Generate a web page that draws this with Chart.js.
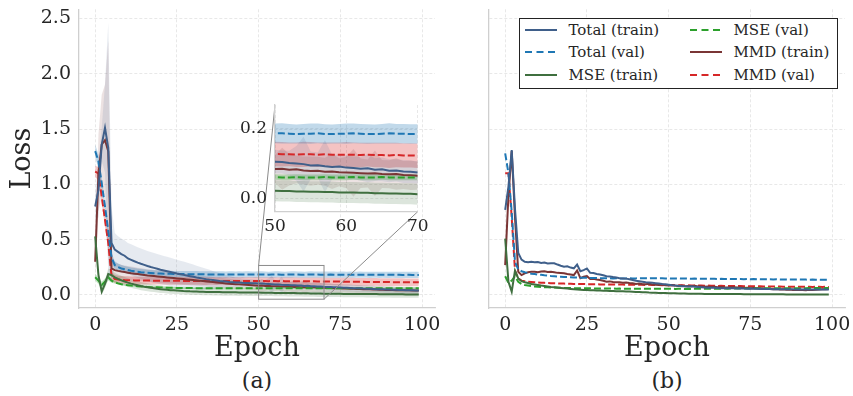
<!DOCTYPE html>
<html>
<head>
<meta charset="utf-8">
<script src="https://cdn.jsdelivr.net/npm/chart.js@4.4.1/dist/chart.umd.min.js"></script>
<style>
  body { margin: 0; background: #fff; }
  #wrap { position: relative; width: 853px; height: 396px; font-family: 'DejaVu Serif', serif; color: #262626; }
  canvas { position: absolute; }
  #chartA { left: 0; top: 0; z-index: 1; }
  #chartInset { left: 225px; top: 95px; z-index: 2; }
  #chartB { left: 440px; top: 0; z-index: 1; }
  .caption { position: absolute; top: 368px; width: 100px; font-size: 22px; line-height: 26px; text-align: center; }
  #legend {
    position: absolute; left: 519px; top: 17.5px; width: 318.5px; height: 71px; box-sizing: border-box;
    border: 1.2px solid #222; background: #fff; z-index: 3;
    display: grid; grid-template-columns: 165px auto; grid-template-rows: repeat(3, 22.5px);
    grid-auto-flow: column; padding: 0 0 0 5px; font-size: 15px;
  }
  #legend .item { display: flex; align-items: center; white-space: nowrap; }
  #legend svg { margin-right: 11.5px; }
</style>
</head>
<body>
<div id="wrap">
  <canvas id="chartA" width="440" height="396"></canvas>
  <canvas id="chartInset" width="215" height="145"></canvas>
  <canvas id="chartB" width="413" height="396"></canvas>
  <div id="legend"></div>
  <div class="caption" style="left:207px">(a)</div>
  <div class="caption" style="left:617px">(b)</div>
</div>
<script>
const epochs = Array.from({ length: 100 }, (_, i) => i);
const xTicks = [0, 25, 50, 75, 100];
const yTicks = [0, 0.5, 1, 1.5, 2, 2.5];
const insetXTicks = [50, 60, 70];
const insetYTicks = [0, 0.2];

const seriesNames = ['Total (train)', 'Total (val)', 'MSE (train)', 'MSE (val)', 'MMD (train)', 'MMD (val)'];
const seriesColors = ['#3f5f8a', '#1f77b4', '#3f6f3f', '#2ca02c', '#7a3535', '#d62728'];
const seriesDashed = [false, true, false, true, false, true];
const bandAlpha = [0.13, 0.28, 0.18, 0.28, 0.14, 0.28];

// (a) mean over runs
const totalTrainA = [
  0.80, 0.95, 1.36, 1.51, 1.33, 0.47, 0.41, 0.39, 0.37, 0.355,
  0.33, 0.318, 0.305, 0.293, 0.282, 0.272, 0.262, 0.253, 0.245, 0.237,
  0.229, 0.222, 0.215, 0.208, 0.201, 0.194, 0.188, 0.182, 0.176, 0.17,
  0.164, 0.158, 0.153, 0.148, 0.143, 0.139, 0.135, 0.131, 0.127, 0.124,
  0.121, 0.118, 0.116, 0.114, 0.112, 0.11, 0.109, 0.108, 0.107, 0.106,
  0.105, 0.104, 0.101, 0.1, 0.098, 0.094, 0.095, 0.092, 0.09, 0.091,
  0.088, 0.087, 0.085, 0.086, 0.082, 0.083, 0.079, 0.08, 0.077, 0.076,
  0.074, 0.073, 0.072, 0.07, 0.069, 0.068, 0.066, 0.065, 0.064, 0.062,
  0.061, 0.06, 0.058, 0.057, 0.056, 0.055, 0.053, 0.052, 0.051, 0.05,
  0.049, 0.048, 0.047, 0.046, 0.045, 0.044, 0.043, 0.042, 0.041, 0.04
];
const totalValA = [
  1.30, 1.21, 1.01, 0.80, 0.58, 0.34, 0.27, 0.252, 0.24, 0.232,
  0.225, 0.219, 0.214, 0.21, 0.206, 0.203, 0.2, 0.198, 0.196, 0.195,
  0.194, 0.193, 0.192, 0.191, 0.19, 0.19, 0.189, 0.189, 0.188, 0.188,
  0.188, 0.187, 0.187, 0.187, 0.186, 0.186, 0.186, 0.186, 0.185, 0.186,
  0.185, 0.186, 0.185, 0.185, 0.186, 0.185, 0.185, 0.186, 0.185, 0.185,
  0.186, 0.186, 0.185, 0.184, 0.185, 0.185, 0.186, 0.184, 0.184, 0.185,
  0.185, 0.186, 0.185, 0.184, 0.184, 0.185, 0.186, 0.185, 0.185, 0.184,
  0.184, 0.184, 0.185, 0.184, 0.183, 0.184, 0.184, 0.183, 0.184, 0.183,
  0.183, 0.184, 0.183, 0.183, 0.182, 0.183, 0.183, 0.182, 0.183, 0.182,
  0.182, 0.183, 0.182, 0.182, 0.181, 0.182, 0.182, 0.181, 0.181, 0.181
];
const mseTrainA = [
  0.53, 0.18, 0.03, 0.10, 0.19, 0.18, 0.16, 0.145, 0.133, 0.122,
  0.112, 0.103, 0.095, 0.088, 0.081, 0.075, 0.07, 0.065, 0.061, 0.057,
  0.053, 0.05, 0.047, 0.044, 0.042, 0.04, 0.038, 0.036, 0.035, 0.033,
  0.032, 0.031, 0.03, 0.029, 0.028, 0.028, 0.027, 0.026, 0.026, 0.025,
  0.025, 0.024, 0.024, 0.024, 0.023, 0.023, 0.023, 0.022, 0.022, 0.022,
  0.022, 0.021, 0.021, 0.02, 0.02, 0.019, 0.019, 0.018, 0.018, 0.017,
  0.017, 0.017, 0.016, 0.016, 0.015, 0.015, 0.014, 0.014, 0.013, 0.013,
  0.012, 0.012, 0.012, 0.011, 0.011, 0.011, 0.01, 0.01, 0.01, 0.009,
  0.009, 0.009, 0.009, 0.008, 0.008, 0.008, 0.008, 0.007, 0.007, 0.007,
  0.007, 0.006, 0.006, 0.006, 0.006, 0.005, 0.005, 0.005, 0.005, 0.005
];
const mseValA = [
  0.16, 0.13, 0.09, 0.12, 0.16, 0.13, 0.115, 0.105, 0.098, 0.093,
  0.089, 0.085, 0.082, 0.079, 0.077, 0.075, 0.073, 0.071, 0.07, 0.069,
  0.068, 0.067, 0.066, 0.065, 0.065, 0.064, 0.064, 0.063, 0.063, 0.063,
  0.062, 0.062, 0.062, 0.061, 0.061, 0.061, 0.061, 0.061, 0.06, 0.06,
  0.06, 0.061, 0.06, 0.06, 0.061, 0.06, 0.06, 0.061, 0.06, 0.06,
  0.061, 0.06, 0.06, 0.061, 0.06, 0.06, 0.06, 0.061, 0.06, 0.06,
  0.06, 0.061, 0.06, 0.06, 0.06, 0.061, 0.06, 0.06, 0.06, 0.06,
  0.06, 0.061, 0.06, 0.06, 0.06, 0.06, 0.061, 0.06, 0.06, 0.06,
  0.06, 0.06, 0.061, 0.06, 0.06, 0.06, 0.06, 0.061, 0.06, 0.06,
  0.06, 0.06, 0.06, 0.061, 0.06, 0.06, 0.06, 0.06, 0.061, 0.06
];
const mmdTrainA = [
  0.30, 1.10, 1.36, 1.40, 1.30, 0.24, 0.225, 0.218, 0.212, 0.207,
  0.202, 0.197, 0.193, 0.189, 0.185, 0.181, 0.177, 0.174, 0.171, 0.168,
  0.165, 0.162, 0.159, 0.156, 0.153, 0.15, 0.147, 0.144, 0.141, 0.138,
  0.135, 0.132, 0.129, 0.126, 0.123, 0.12, 0.117, 0.114, 0.111, 0.108,
  0.105, 0.102, 0.1, 0.098, 0.096, 0.094, 0.092, 0.09, 0.088, 0.086,
  0.084, 0.085, 0.082, 0.083, 0.08, 0.078, 0.079, 0.076, 0.077, 0.075,
  0.074, 0.073, 0.072, 0.071, 0.072, 0.07, 0.069, 0.07, 0.067, 0.066,
  0.065, 0.064, 0.063, 0.062, 0.061, 0.06, 0.059, 0.058, 0.057, 0.056,
  0.055, 0.054, 0.053, 0.052, 0.051, 0.05, 0.049, 0.048, 0.047, 0.046,
  0.046, 0.045, 0.044, 0.044, 0.043, 0.042, 0.042, 0.041, 0.041, 0.04
];
const mmdValA = [
  1.115, 1.10, 0.89, 0.68, 0.47, 0.17, 0.145, 0.14, 0.137, 0.135,
  0.134, 0.133, 0.132, 0.131, 0.131, 0.13, 0.13, 0.13, 0.129, 0.129,
  0.129, 0.129, 0.128, 0.128, 0.128, 0.128, 0.128, 0.127, 0.128, 0.127,
  0.127, 0.128, 0.127, 0.127, 0.126, 0.127, 0.127, 0.126, 0.127, 0.127,
  0.127, 0.126, 0.127, 0.126, 0.127, 0.126, 0.126, 0.127, 0.126, 0.127,
  0.127, 0.126, 0.126, 0.125, 0.126, 0.126, 0.125, 0.126, 0.125, 0.125,
  0.125, 0.125, 0.124, 0.125, 0.124, 0.124, 0.123, 0.124, 0.123, 0.123,
  0.122, 0.122, 0.122, 0.121, 0.121, 0.121, 0.12, 0.12, 0.12, 0.12,
  0.119, 0.119, 0.119, 0.118, 0.118, 0.118, 0.118, 0.117, 0.117, 0.117,
  0.117, 0.116, 0.116, 0.116, 0.116, 0.115, 0.115, 0.115, 0.115, 0.115
];

// (a) spread over runs (one standard deviation)
const totalTrainStdA = [
  0.12, 0.25, 0.15, 0.40, 1.13, 0.33, 0.15, 0.14, 0.14, 0.14,
  0.14, 0.14, 0.14, 0.139, 0.138, 0.137, 0.136, 0.135, 0.134, 0.133,
  0.132, 0.131, 0.13, 0.128, 0.126, 0.124, 0.122, 0.12, 0.117, 0.114,
  0.111, 0.107, 0.103, 0.099, 0.094, 0.089, 0.083, 0.077, 0.071, 0.065,
  0.06, 0.055, 0.05, 0.046, 0.043, 0.04, 0.038, 0.036, 0.035, 0.034,
  0.034, 0.033, 0.035, 0.05, 0.078, 0.04, 0.036, 0.075, 0.035, 0.034,
  0.034, 0.033, 0.034, 0.04, 0.033, 0.034, 0.033, 0.032, 0.033, 0.032,
  0.032, 0.031, 0.031, 0.03, 0.03, 0.03, 0.03, 0.029, 0.029, 0.029,
  0.029, 0.028, 0.028, 0.028, 0.028, 0.028, 0.027, 0.027, 0.027, 0.027,
  0.027, 0.026, 0.026, 0.026, 0.026, 0.026, 0.025, 0.025, 0.025, 0.025
];
const totalValStdA = [
  0.06, 0.06, 0.05, 0.05, 0.05, 0.04, 0.035, 0.032, 0.03, 0.03,
  0.03, 0.03, 0.029, 0.029, 0.029, 0.029, 0.029, 0.028, 0.028, 0.028,
  0.028, 0.028, 0.028, 0.028, 0.028, 0.028, 0.028, 0.028, 0.028, 0.028,
  0.028, 0.029, 0.028, 0.028, 0.029, 0.028, 0.028, 0.028, 0.029, 0.028,
  0.028, 0.028, 0.029, 0.028, 0.028, 0.028, 0.029, 0.028, 0.028, 0.028,
  0.028, 0.029, 0.028, 0.027, 0.028, 0.029, 0.028, 0.028, 0.027, 0.028,
  0.029, 0.028, 0.028, 0.028, 0.027, 0.028, 0.029, 0.028, 0.028, 0.028,
  0.028, 0.028, 0.028, 0.028, 0.028, 0.028, 0.028, 0.028, 0.028, 0.028,
  0.028, 0.028, 0.028, 0.028, 0.028, 0.028, 0.028, 0.028, 0.028, 0.028,
  0.028, 0.028, 0.028, 0.028, 0.028, 0.028, 0.028, 0.028, 0.028, 0.028
];
const mseTrainStdA = [
  0.05, 0.05, 0.03, 0.04, 0.05, 0.045, 0.042, 0.04, 0.04, 0.04,
  0.039, 0.038, 0.038, 0.037, 0.037, 0.036, 0.036, 0.035, 0.035, 0.034,
  0.034, 0.033, 0.033, 0.033, 0.032, 0.032, 0.032, 0.032, 0.031, 0.031,
  0.031, 0.031, 0.031, 0.031, 0.031, 0.031, 0.031, 0.031, 0.031, 0.031,
  0.031, 0.031, 0.031, 0.031, 0.031, 0.03, 0.03, 0.03, 0.03, 0.03,
  0.03, 0.03, 0.03, 0.03, 0.03, 0.03, 0.03, 0.03, 0.03, 0.03,
  0.03, 0.03, 0.03, 0.03, 0.03, 0.03, 0.03, 0.03, 0.03, 0.03,
  0.03, 0.03, 0.03, 0.03, 0.03, 0.03, 0.03, 0.03, 0.03, 0.03,
  0.03, 0.03, 0.03, 0.03, 0.03, 0.03, 0.03, 0.03, 0.03, 0.03,
  0.03, 0.03, 0.03, 0.03, 0.03, 0.03, 0.03, 0.03, 0.03, 0.03
];
const mseValStdA = [
  0.03, 0.03, 0.03, 0.03, 0.03, 0.02, 0.012, 0.01, 0.009, 0.008,
  0.008, 0.008, 0.008, 0.008, 0.008, 0.008, 0.008, 0.008, 0.008, 0.008,
  0.008, 0.008, 0.008, 0.008, 0.008, 0.008, 0.008, 0.008, 0.008, 0.008,
  0.008, 0.008, 0.008, 0.008, 0.008, 0.008, 0.008, 0.008, 0.008, 0.008,
  0.008, 0.008, 0.008, 0.008, 0.008, 0.008, 0.008, 0.008, 0.008, 0.008,
  0.008, 0.008, 0.008, 0.008, 0.008, 0.008, 0.008, 0.008, 0.008, 0.008,
  0.008, 0.008, 0.008, 0.008, 0.008, 0.008, 0.008, 0.008, 0.008, 0.008,
  0.008, 0.008, 0.008, 0.008, 0.008, 0.008, 0.008, 0.008, 0.008, 0.008,
  0.008, 0.008, 0.008, 0.008, 0.008, 0.008, 0.008, 0.008, 0.008, 0.008,
  0.008, 0.008, 0.008, 0.008, 0.008, 0.008, 0.008, 0.008, 0.008, 0.008
];
const mmdTrainStdA = [
  0.15, 0.35, 0.45, 0.50, 1.00, 0.08, 0.07, 0.065, 0.062, 0.06,
  0.06, 0.06, 0.059, 0.058, 0.058, 0.057, 0.056, 0.056, 0.055, 0.055,
  0.054, 0.054, 0.053, 0.053, 0.052, 0.052, 0.051, 0.051, 0.05, 0.05,
  0.049, 0.049, 0.048, 0.048, 0.047, 0.047, 0.046, 0.046, 0.045, 0.045,
  0.044, 0.044, 0.043, 0.043, 0.042, 0.042, 0.041, 0.041, 0.04, 0.04,
  0.04, 0.06, 0.045, 0.04, 0.04, 0.042, 0.04, 0.04, 0.05, 0.04,
  0.045, 0.068, 0.042, 0.04, 0.065, 0.04, 0.04, 0.045, 0.04, 0.042,
  0.04, 0.039, 0.039, 0.038, 0.038, 0.038, 0.037, 0.037, 0.037, 0.036,
  0.036, 0.036, 0.035, 0.035, 0.035, 0.035, 0.034, 0.034, 0.034, 0.034,
  0.034, 0.033, 0.033, 0.033, 0.033, 0.033, 0.032, 0.032, 0.032, 0.032
];
const mmdValStdA = [
  0.05, 0.06, 0.06, 0.06, 0.06, 0.04, 0.036, 0.035, 0.035, 0.035,
  0.035, 0.035, 0.035, 0.035, 0.035, 0.035, 0.035, 0.035, 0.035, 0.035,
  0.035, 0.035, 0.035, 0.035, 0.035, 0.035, 0.035, 0.035, 0.035, 0.035,
  0.035, 0.035, 0.035, 0.036, 0.035, 0.035, 0.035, 0.035, 0.035, 0.035,
  0.035, 0.035, 0.035, 0.035, 0.035, 0.036, 0.035, 0.035, 0.035, 0.035,
  0.035, 0.035, 0.034, 0.035, 0.036, 0.035, 0.035, 0.034, 0.035, 0.035,
  0.036, 0.035, 0.035, 0.034, 0.035, 0.035, 0.036, 0.035, 0.035, 0.035,
  0.035, 0.035, 0.035, 0.035, 0.035, 0.035, 0.035, 0.035, 0.035, 0.035,
  0.035, 0.035, 0.035, 0.035, 0.035, 0.035, 0.035, 0.035, 0.035, 0.035,
  0.035, 0.035, 0.035, 0.035, 0.035, 0.035, 0.035, 0.035, 0.035, 0.035
];

// (b) single run
const totalTrainB = [
  0.77, 0.98, 1.31, 0.78, 0.38, 0.32, 0.30, 0.295, 0.30, 0.297,
  0.298, 0.29, 0.293, 0.285, 0.288, 0.286, 0.275, 0.265, 0.256, 0.26,
  0.248, 0.241, 0.275, 0.215, 0.225, 0.24, 0.2, 0.198, 0.19, 0.185,
  0.178, 0.17, 0.168, 0.162, 0.158, 0.152, 0.15, 0.148, 0.142, 0.136,
  0.128, 0.124, 0.12, 0.116, 0.113, 0.11, 0.107, 0.104, 0.1, 0.097,
  0.093, 0.088, 0.085, 0.083, 0.08, 0.078, 0.077, 0.078, 0.074, 0.072,
  0.07, 0.068, 0.066, 0.065, 0.066, 0.063, 0.062, 0.062, 0.061, 0.06,
  0.06, 0.059, 0.06, 0.058, 0.057, 0.058, 0.056, 0.056, 0.055, 0.056,
  0.054, 0.055, 0.053, 0.054, 0.052, 0.053, 0.052, 0.051, 0.052, 0.05,
  0.051, 0.05, 0.051, 0.049, 0.05, 0.05, 0.049, 0.05, 0.05, 0.05
];
const totalValB = [
  1.28, 1.10, 0.75, 0.30, 0.23, 0.215, 0.205, 0.198, 0.193, 0.19,
  0.185, 0.182, 0.178, 0.175, 0.172, 0.17, 0.167, 0.165, 0.163, 0.162,
  0.16, 0.158, 0.157, 0.156, 0.155, 0.155, 0.154, 0.153, 0.153, 0.152,
  0.152, 0.151, 0.151, 0.15, 0.151, 0.15, 0.149, 0.15, 0.151, 0.15,
  0.15, 0.151, 0.152, 0.151, 0.15, 0.152, 0.151, 0.15, 0.151, 0.15,
  0.15, 0.149, 0.15, 0.149, 0.148, 0.149, 0.148, 0.147, 0.148, 0.147,
  0.147, 0.146, 0.147, 0.146, 0.146, 0.145, 0.146, 0.145, 0.145, 0.144,
  0.145, 0.144, 0.144, 0.143, 0.144, 0.143, 0.145, 0.143, 0.142, 0.143,
  0.142, 0.142, 0.141, 0.142, 0.141, 0.14, 0.141, 0.14, 0.14, 0.139,
  0.14, 0.139, 0.139, 0.138, 0.139, 0.138, 0.138, 0.137, 0.137, 0.137
];
const mseTrainB = [
  0.51, 0.12, 0.03, 0.22, 0.15, 0.125, 0.115, 0.108, 0.1, 0.095,
  0.09, 0.085, 0.081, 0.077, 0.073, 0.07, 0.067, 0.064, 0.061, 0.058,
  0.055, 0.052, 0.05, 0.048, 0.046, 0.045, 0.043, 0.042, 0.041, 0.04,
  0.039, 0.038, 0.037, 0.036, 0.035, 0.034, 0.033, 0.032, 0.031, 0.03,
  0.028, 0.027, 0.025, 0.024, 0.022, 0.021, 0.02, 0.019, 0.018, 0.017,
  0.016, 0.015, 0.015, 0.014, 0.013, 0.013, 0.012, 0.012, 0.011, 0.011,
  0.011, 0.01, 0.01, 0.01, 0.009, 0.009, 0.009, 0.009, 0.008, 0.008,
  0.008, 0.008, 0.008, 0.007, 0.007, 0.007, 0.007, 0.007, 0.007, 0.006,
  0.006, 0.006, 0.006, 0.006, 0.006, 0.006, 0.005, 0.005, 0.005, 0.005,
  0.005, 0.005, 0.005, 0.005, 0.005, 0.005, 0.005, 0.004, 0.004, 0.004
];
const mseValB = [
  0.17, 0.11, 0.13, 0.17, 0.12, 0.10, 0.09, 0.085, 0.08, 0.077,
  0.074, 0.072, 0.07, 0.069, 0.068, 0.067, 0.066, 0.065, 0.064, 0.063,
  0.063, 0.062, 0.062, 0.061, 0.061, 0.06, 0.06, 0.06, 0.059, 0.059,
  0.059, 0.058, 0.058, 0.058, 0.057, 0.058, 0.057, 0.057, 0.057, 0.057,
  0.057, 0.056, 0.057, 0.056, 0.056, 0.057, 0.056, 0.056, 0.056, 0.056,
  0.056, 0.056, 0.055, 0.056, 0.056, 0.055, 0.056, 0.055, 0.056, 0.056,
  0.056, 0.056, 0.057, 0.056, 0.057, 0.057, 0.057, 0.058, 0.057, 0.058,
  0.058, 0.058, 0.059, 0.058, 0.059, 0.059, 0.06, 0.059, 0.06, 0.06,
  0.06, 0.06, 0.061, 0.06, 0.061, 0.061, 0.061, 0.062, 0.061, 0.062,
  0.062, 0.062, 0.062, 0.063, 0.062, 0.063, 0.063, 0.063, 0.064, 0.063
];
const mmdTrainB = [
  0.27, 0.90, 1.30, 0.70, 0.21, 0.18, 0.195, 0.205, 0.21, 0.21,
  0.205, 0.212, 0.215, 0.208, 0.21, 0.205, 0.2, 0.198, 0.196, 0.19,
  0.185, 0.18, 0.222, 0.152, 0.165, 0.17, 0.145, 0.147, 0.14, 0.135,
  0.128, 0.12, 0.123, 0.118, 0.115, 0.116, 0.111, 0.113, 0.108, 0.106,
  0.1, 0.104, 0.098, 0.097, 0.102, 0.095, 0.093, 0.09, 0.094, 0.088,
  0.086, 0.09, 0.085, 0.082, 0.086, 0.08, 0.082, 0.079, 0.083, 0.078,
  0.077, 0.075, 0.076, 0.072, 0.074, 0.071, 0.073, 0.07, 0.068, 0.07,
  0.069, 0.067, 0.068, 0.064, 0.066, 0.062, 0.063, 0.06, 0.061, 0.058,
  0.057, 0.055, 0.052, 0.054, 0.05, 0.052, 0.048, 0.049, 0.046, 0.047,
  0.045, 0.046, 0.044, 0.047, 0.045, 0.048, 0.05, 0.052, 0.053, 0.054
];
const mmdValB = [
  1.10, 1.10, 0.70, 0.22, 0.15, 0.13, 0.125, 0.12, 0.118, 0.115,
  0.113, 0.111, 0.11, 0.108, 0.107, 0.106, 0.105, 0.104, 0.103, 0.102,
  0.101, 0.1, 0.1, 0.099, 0.099, 0.098, 0.098, 0.097, 0.097, 0.096,
  0.096, 0.095, 0.096, 0.095, 0.094, 0.095, 0.094, 0.093, 0.094, 0.093,
  0.092, 0.093, 0.092, 0.091, 0.092, 0.09, 0.091, 0.09, 0.089, 0.09,
  0.089, 0.088, 0.089, 0.087, 0.088, 0.086, 0.087, 0.086, 0.085, 0.086,
  0.085, 0.084, 0.085, 0.083, 0.084, 0.082, 0.083, 0.082, 0.081, 0.082,
  0.081, 0.08, 0.081, 0.079, 0.08, 0.079, 0.078, 0.079, 0.078, 0.077,
  0.078, 0.077, 0.076, 0.077, 0.076, 0.075, 0.076, 0.075, 0.075, 0.074,
  0.075, 0.074, 0.074, 0.075, 0.073, 0.074, 0.074, 0.073, 0.074, 0.073
];

const meansA = [totalTrainA, totalValA, mseTrainA, mseValA, mmdTrainA, mmdValA];
const stdsA = [totalTrainStdA, totalValStdA, mseTrainStdA, mseValStdA, mmdTrainStdA, mmdValStdA];
const meansB = [totalTrainB, totalValB, mseTrainB, mseValB, mmdTrainB, mmdValB];

const FONT = "'DejaVu Serif', serif";
const TEXT = '#262626';
const GRID = '#e2e2e2';
const SPINE = '#cfcfcf';

function rgba(hex, a) {
  const n = parseInt(hex.slice(1), 16);
  return `rgba(${n >> 16},${(n >> 8) & 255},${n & 255},${a})`;
}

function lineSets(means) {
  return means.map((m, i) => ({
    label: seriesNames[i],
    data: m,
    borderColor: seriesColors[i],
    borderWidth: 2,
    borderDash: seriesDashed[i] ? [7, 3] : [],
    pointRadius: 0,
    fill: false,
    tension: 0
  }));
}

function bandSets(means, stds) {
  const out = [];
  means.forEach((m, i) => {
    out.push({
      label: '',
      data: m.map((v, k) => v + stds[i][k]),
      borderColor: 'rgba(0,0,0,0)',
      borderWidth: 0,
      pointRadius: 0,
      fill: '+1',
      backgroundColor: rgba(seriesColors[i], bandAlpha[i])
    });
    out.push({
      label: '',
      data: m.map((v, k) => v - stds[i][k]),
      borderColor: 'rgba(0,0,0,0)',
      borderWidth: 0,
      pointRadius: 0,
      fill: false
    });
  });
  return out;
}

function axis(o) {
  return {
    type: 'linear',
    min: o.min,
    max: o.max,
    afterBuildTicks: s => { s.ticks = o.ticks.map(v => ({ value: v })); },
    afterFit: s => {
      if (o.width !== undefined) s.width = o.width;
      if (o.height !== undefined) s.height = o.height;
      s.paddingLeft = 0; s.paddingRight = 0; s.paddingTop = 0; s.paddingBottom = 0;
    },
    grid: { color: GRID, lineWidth: 0.8, drawTicks: false },
    border: { color: SPINE, width: 1.3, dash: [3, 2] },
    ticks: {
      display: o.showTicks !== false,
      color: TEXT,
      font: { family: FONT, size: o.tickSize },
      padding: o.tickPad,
      maxRotation: 0,
      autoSkip: false,
      callback: o.fmt
    },
    title: o.title ? {
      display: true,
      text: o.title,
      color: TEXT,
      font: { family: FONT, size: 27 },
      padding: o.titlePad
    } : { display: false }
  };
}

const baseOptions = {
  responsive: false,
  animation: false,
  events: [],
  plugins: { legend: { display: false }, tooltip: { enabled: false } }
};

// inset of (a): epochs 50-70
const inset = new Chart(document.getElementById('chartInset'), {
  type: 'line',
  data: { labels: epochs, datasets: [...lineSets(meansA), ...bandSets(meansA, stdsA)] },
  options: {
    ...baseOptions,
    layout: { padding: { left: 0, top: 10, right: 22.3, bottom: 0 } },
    scales: {
      x: axis({ min: 50, max: 70, ticks: insetXTicks, height: 28.3, tickSize: 17, tickPad: 5, fmt: v => String(v) }),
      y: axis({ min: -0.038, max: 0.267, ticks: insetYTicks, width: 50, tickSize: 17, tickPad: 8, fmt: v => v.toFixed(1) })
    }
  }
});

const zoomBox = {
  id: 'zoomBox',
  afterDatasetsDraw(chart) {
    const ins = Chart.getChart('chartInset');
    if (!ins) return;
    const { ctx } = chart;
    const { x, y } = chart.scales;
    const x0 = x.getPixelForValue(ins.scales.x.min);
    const x1 = x.getPixelForValue(ins.scales.x.max);
    const y0 = y.getPixelForValue(ins.scales.y.max);
    const y1 = y.getPixelForValue(ins.scales.y.min);
    const ox = ins.canvas.offsetLeft - chart.canvas.offsetLeft;
    const oy = ins.canvas.offsetTop - chart.canvas.offsetTop;
    const a = ins.chartArea;
    ctx.save();
    ctx.strokeStyle = '#8a8a8a';
    ctx.lineWidth = 1;
    ctx.strokeRect(x0, y0, x1 - x0, y1 - y0);
    ctx.beginPath();
    ctx.moveTo(x0, y0);
    ctx.lineTo(a.left + ox, a.top + oy);
    ctx.moveTo(x1, y1);
    ctx.lineTo(a.right + ox, a.bottom + oy);
    ctx.stroke();
    ctx.restore();
  }
};

const chartA = new Chart(document.getElementById('chartA'), {
  type: 'line',
  data: { labels: epochs, datasets: [...lineSets(meansA), ...bandSets(meansA, stdsA)] },
  options: {
    ...baseOptions,
    layout: { padding: { left: 0, top: 9.3, right: 5, bottom: 0 } },
    scales: {
      x: axis({ min: -4.95, max: 103.95, ticks: xTicks, height: 88, tickSize: 19, tickPad: 6, fmt: v => String(v),
        title: 'Epoch', titlePad: { top: 0, bottom: 30.8 } }),
      y: axis({ min: -0.1175, max: 2.582, ticks: yTicks, width: 79, tickSize: 19, tickPad: 8, fmt: v => v.toFixed(1),
        title: 'Loss', titlePad: { top: 6.3, bottom: 0 } })
    }
  },
  plugins: [zoomBox]
});

const chartB = new Chart(document.getElementById('chartB'), {
  type: 'line',
  data: { labels: epochs, datasets: lineSets(meansB) },
  options: {
    ...baseOptions,
    layout: { padding: { left: 0, top: 9.3, right: 8, bottom: 0 } },
    scales: {
      x: axis({ min: -4.95, max: 103.95, ticks: xTicks, height: 88, tickSize: 19, tickPad: 6, fmt: v => String(v),
        title: 'Epoch', titlePad: { top: 0, bottom: 30.8 } }),
      y: axis({ min: -0.1175, max: 2.582, ticks: yTicks, width: 49, tickSize: 19, tickPad: 8, showTicks: false })
    }
  }
});

// legend in two columns, built from the datasets of (b)
const legendBox = document.getElementById('legend');
chartB.data.datasets.forEach(ds => {
  const item = document.createElement('div');
  item.className = 'item';
  const dash = ds.borderDash.length ? ' stroke-dasharray="7 4.5"' : '';
  item.innerHTML = `<svg width="32" height="10"><line x1="0" y1="5" x2="32" y2="5" stroke="${ds.borderColor}" stroke-width="2"${dash}/></svg><span>${ds.label}</span>`;
  legendBox.appendChild(item);
});
</script>
</body>
</html>
